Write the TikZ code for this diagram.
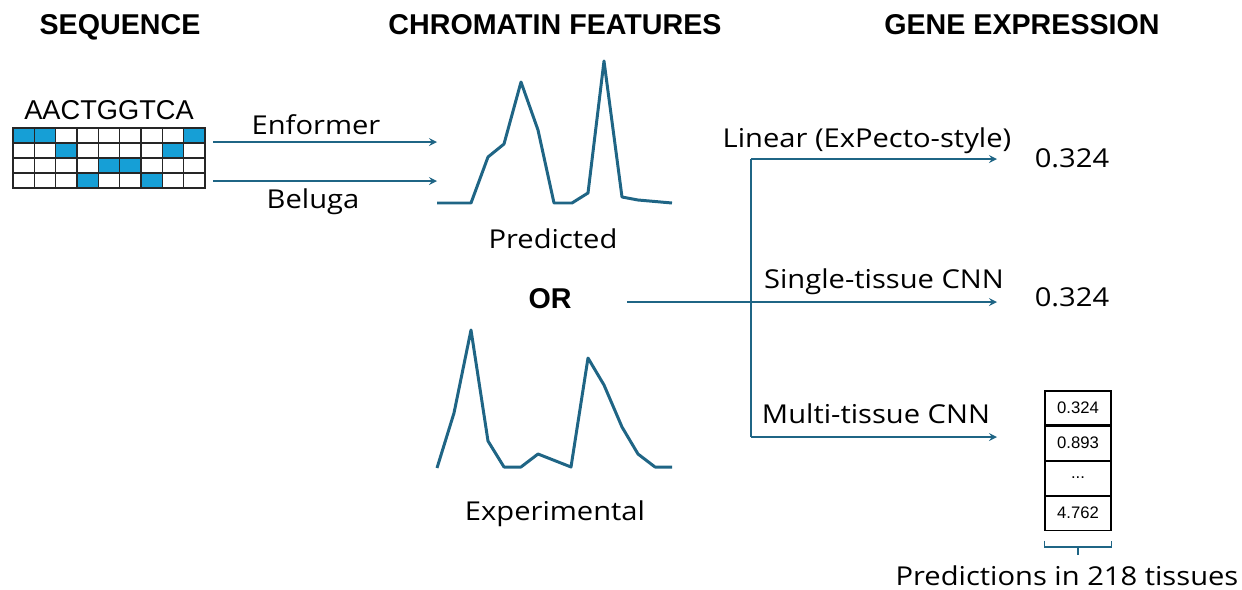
\documentclass[tikz,border=0pt]{standalone}
\usepackage{fontspec}
\setmainfont{Liberation Sans}
\newfontfamily\bodyfont[FakeStretch=1.12]{Open Sans}
\usetikzlibrary{
		calc,
		positioning
	}
\definecolor{lineblue}{RGB}{31,101,133}
\definecolor{cellblue}{RGB}{22,159,214}
\tikzset{
		>=stealth,
		header/.style={anchor=base, font=\bfseries\fontsize{16.3}{18}\selectfont},
		txt/.style={anchor=base, font=\bodyfont\fontsize{14.8}{17}\selectfont},
		arr/.style={->, draw=lineblue, line width=1pt},
		track/.style={draw=lineblue, line width=1.7pt, line join=round},
		valbox/.style={draw, line width=0.6pt, minimum width=1.32cm, minimum height=0.68cm,
			inner sep=0pt, font=\fontsize{9.5}{11}\selectfont}
	}

\begin{document}
\begin{tikzpicture}[x=0.02cm, y=-0.02cm]
    \useasboundingbox (0,0) rectangle (1242,589);

    % the titles
    \node[header] (hseq) at (120,34) {SEQUENCE};
    \node[header] (hchrom) at (555,34) {CHROMATIN FEATURES};
    \node[header] (hgene) at (1022,34) {GENE EXPRESSION};

    % one-hot sequence
    \node[anchor=base, font=\fontsize{15.5}{17}\selectfont] (seq) at (109,119) {AACTGGTCA};
    \foreach \c/\r in {0/0,1/0,8/0,2/1,7/1,4/2,5/2,3/3,6/3}
        \fill[cellblue] (13+\c*21.333,128+\r*15) rectangle ++(21.333,15);
    \foreach \r in {0,...,3}
        \foreach \c in {0,...,8}
            \draw[line width=0.6pt, black!85] (13+\c*21.333,128+\r*15) rectangle ++(21.333,15);

    % the two models
    \coordinate (enf0) at (213,142);
    \coordinate (enf1) at (437,142);
    \coordinate (bel0) at (213,181);
    \coordinate (bel1) at (437,181);
    \draw[arr] (enf0) -- (enf1);
    \draw[arr] (bel0) -- (bel1);
    \node[txt] (enf) at (316,134) {Enformer};
    \node[txt] (bel) at (313,208) {Beluga};

    % predicted and experimental tracks
    \draw[track] (437,203) -- (471,203) -- (488,157) -- (504,144) -- (521,82) -- (538,130)
        -- (554,203) -- (572,203) -- (588,193) -- (604,61) -- (622,197) -- (638,200) -- (672,203);
    \node[txt] (pred) at (553,248) {Predicted};
    \node[header] (or) at (550,308) {OR};
    \draw[track] (437,468) -- (454,413) -- (471,330) -- (488,441) -- (504,467) -- (521,467)
        -- (538,454) -- (571,467) -- (588,358) -- (604,385) -- (622,427) -- (638,454)
        -- (655,467) -- (672,467);
    \node[txt] (expt) at (555,520) {Experimental};

    % the three expression models
    \coordinate (split0) at (627,302);
    \coordinate (top) at (751,159);
    \coordinate (bot) at (751,437);
    \coordinate (lin1) at (997,159);
    \coordinate (sgl1) at (997,302);
    \coordinate (mlt1) at (997,437);
    \draw[lineblue, line width=1pt] (top) -- (bot);
    \draw[arr] (split0) -- (sgl1);
    \draw[arr] (top) -- (lin1);
    \draw[arr] (bot) -- (mlt1);
    \node[txt] (lin) at (867,147) {Linear (ExPecto-style)};
    \node[txt] (sgl) at (884,288) {Single-tissue CNN};
    \node[txt] (mlt) at (876,423) {Multi-tissue CNN};

    % the outputs
    \node[txt] (val1) at (1072,167) {0.324};
    \node[txt] (val2) at (1072,306) {0.324};
    \node[valbox] (t1) at (1078,408) {0.324};
    \node[valbox, below=0pt of t1] (t2) {0.893};
    \node[valbox, below=0pt of t2] (t3) {...};
    \node[valbox, below=0pt of t3] (t4) {4.762};

    % brace under the table
    \coordinate (bl) at ($(t4.south west)+(0,10)$);
    \coordinate (br) at ($(t4.south east)+(0,10)$);
    \coordinate (bm) at ($(t4.south)+(0,16)$);
    \draw[lineblue, line width=1pt] (bl) -- ++(0,6) -- ($(br)+(0,6)$) -- (br);
    \draw[lineblue, line width=1pt] (bm) -- ++(0,8);
    \node[txt] (ntis) at (1067,585) {Predictions in 218 tissues};

\end{tikzpicture}
\end{document}
